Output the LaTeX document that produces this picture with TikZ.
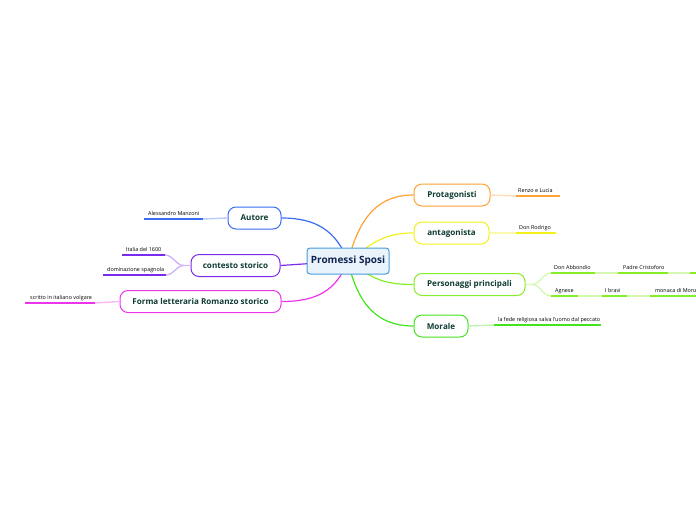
\documentclass[tikz,border=0pt]{standalone}
\usepackage{fontspec}
\setmainfont{Open Sans}
\usetikzlibrary{backgrounds}
\definecolor{txt}{HTML}{0E3B32}
\definecolor{ctxt}{HTML}{12224F}
\definecolor{cfill}{HTML}{E8F3FC}
\definecolor{cdraw}{HTML}{4A9BDB}
\definecolor{cblue}{HTML}{3A6CF2}
\definecolor{cpurple}{HTML}{7B2BEF}
\definecolor{cmag}{HTML}{EA35EA}
\definecolor{corange}{HTML}{FFA234}
\definecolor{cyellow}{HTML}{F2F21A}
\definecolor{clime}{HTML}{86EE26}
\definecolor{cgreen}{HTML}{44E41C}
\tikzset{
  x=1pt,y=-1pt,
  topic/.style={draw=#1, line width=1pt, fill=white, rounded corners=8pt, minimum height=22pt, inner xsep=4pt, text=txt, font=\fontsize{8.1}{9}\selectfont\bfseries},
  central/.style={draw=cdraw, line width=1pt, fill=cfill, rounded corners=3pt, minimum height=26pt, minimum width=82pt, inner xsep=2pt, text=ctxt, font=\fontsize{10}{11}\selectfont\bfseries},
  sub/.style={anchor=base west, inner sep=0pt, text=black, font=\fontsize{5.4}{6}\selectfont},
  main/.style={draw=#1, line width=1.2pt},
  dark/.style={draw=#1, line width=1.4pt},
  light/.style={draw=#1!35, line width=1.4pt},
}
\begin{document}
\begin{tikzpicture}
\useasboundingbox (0,0) rectangle (696,520);
% central and topics
\node[central] (c) at (348,261) {Promessi Sposi};
\node[topic=corange, minimum width=76pt] (p) at (452,195) {Protagonisti};
\node[topic=cyellow, minimum width=75pt] (an) at (451.5,233) {antagonista};
\node[topic=clime, minimum width=111pt] (pp) at (469.5,284.5) {Personaggi principali};
\node[topic=cgreen, minimum width=54pt] (m) at (441,326) {Morale};
\node[topic=cblue, minimum width=53pt] (au) at (254.5,218) {Autore};
\node[topic=cpurple, minimum width=89pt] (cs) at (235.5,265.5) {contesto storico};
\node[topic=cmag, minimum width=161pt] (fl) at (200.5,301.5) {Forma letteraria Romanzo storico};
% main connectors
\begin{scope}[on background layer]
\draw[main=corange] (c.center) .. controls +(12,-45) and +(-35,0) .. (p.west);
\draw[main=cyellow] (c.center) .. controls +(25,-18) and +(-30,0) .. (an.west);
\draw[main=clime] (c.center) .. controls +(25,18) and +(-30,0) .. (pp.west);
\draw[main=cgreen] (c.center) .. controls +(10,45) and +(-35,0) .. (m.west);
\draw[main=cblue] (c.center) .. controls +(-12,-30) and +(35,0) .. (au.east);
\draw[main=cpurple] (c.center) -- (cs.east);
\draw[main=cmag] (c.center) .. controls +(-12,30) and +(35,0) .. (fl.east);
\end{scope}
% Protagonisti
\coordinate (rl1) at (516,196); \coordinate (rl2) at (560,196);
\node[sub] (rl) at (518,192) {Renzo e Lucia};
\draw[light=corange] (p.east) -- (rl1);
\draw[dark=corange] (rl1) -- (rl2);
% antagonista
\coordinate (dr1) at (516,233); \coordinate (dr2) at (556,233);
\node[sub] (dr) at (519,229.5) {Don Rodrigo};
\draw[light=cyellow] (an.east) -- (dr1);
\draw[dark=cyellow] (dr1) -- (dr2);
% Personaggi principali
\coordinate (da1) at (551,273); \coordinate (da2) at (595,273);
\coordinate (pc1) at (618,273); \coordinate (pc2) at (668,273);
\coordinate (r11) at (690,273); \coordinate (r12) at (697,273);
\coordinate (ag1) at (551,296); \coordinate (ag2) at (578,296);
\coordinate (ib1) at (602,296); \coordinate (ib2) at (627,296);
\coordinate (mo1) at (650,296); \coordinate (mo2) at (697,296);
\coordinate (ppb) at (532,284.5);
\node[sub] (da) at (554,269.5) {Don Abbondio};
\node[sub] (pc) at (623,269.5) {Padre Cristoforo};
\node[sub] (ag) at (555,292.5) {Agnese};
\node[sub] (ib) at (605,292.5) {I bravi};
\node[sub] (mo) at (655,292.5) {monaca di Monza};
\draw[light=clime] (pp.east) -- (ppb) .. controls +(8,0) and +(-8,0) .. (da1);
\draw[light=clime] (ppb) .. controls +(8,0) and +(-8,0) .. (ag1);
\draw[light=clime] (da2) -- (pc1);
\draw[light=clime] (pc2) -- (r11);
\draw[light=clime] (ag2) -- (ib1);
\draw[light=clime] (ib2) -- (mo1);
\draw[dark=clime] (da1) -- (da2);
\draw[dark=clime] (pc1) -- (pc2);
\draw[dark=clime] (r11) -- (r12);
\draw[dark=clime] (ag1) -- (ag2);
\draw[dark=clime] (ib1) -- (ib2);
\draw[dark=clime] (mo1) -- (mo2);
% Morale
\coordinate (fr1) at (494,325); \coordinate (fr2) at (601,325);
\node[sub] (fr) at (498,321) {la fede religiosa salva l'uomo dal peccato};
\draw[light=cgreen] (m.east) -- (fr1);
\draw[dark=cgreen] (fr1) -- (fr2);
% Autore
\coordinate (am1) at (203,219); \coordinate (am2) at (144,219);
\node[sub] (am) at (148,215.5) {Alessandro Manzoni};
\draw[light=cblue] (au.west) -- (am1);
\draw[dark=cblue] (am1) -- (am2);
% contesto storico
\coordinate (csb) at (184,265.5);
\coordinate (it1) at (165,255); \coordinate (it2) at (122,255);
\coordinate (ds1) at (166,275); \coordinate (ds2) at (103,275);
\node[sub] (it) at (126,251) {Italia del 1600};
\node[sub] (ds) at (107,271) {dominazione spagnola};
\draw[light=cpurple] (cs.west) -- (csb) .. controls +(-8,0) and +(8,0) .. (it1);
\draw[light=cpurple] (csb) .. controls +(-8,0) and +(8,0) .. (ds1);
\draw[dark=cpurple] (it1) -- (it2);
\draw[dark=cpurple] (ds1) -- (ds2);
% Forma letteraria
\coordinate (sc1) at (95,303); \coordinate (sc2) at (25,303);
\node[sub] (sc) at (30,299.5) {scritto in italiano volgare};
\draw[light=cmag] (fl.west) -- (sc1);
\draw[dark=cmag] (sc1) -- (sc2);
\end{tikzpicture}
\end{document}
